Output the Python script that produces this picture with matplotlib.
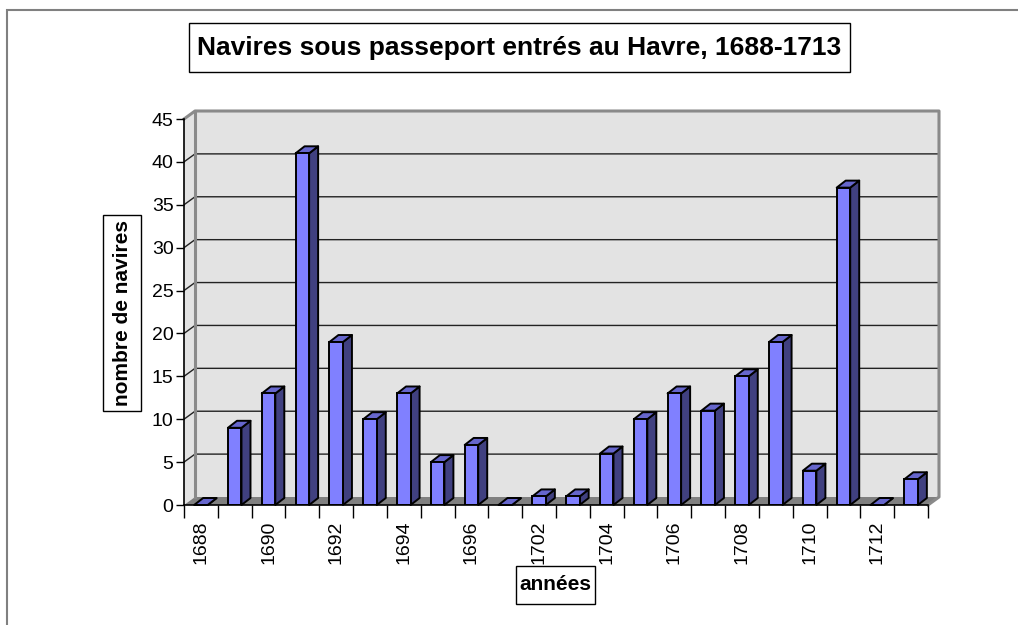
import matplotlib
matplotlib.use('Agg')
import matplotlib.pyplot as plt
from matplotlib.patches import Polygon, Rectangle

# ---------------- data ----------------
years = ['1688', '1689', '1690', '1691', '1692', '1693', '1694', '1695', '1696', '1697',
         '1702', '1703', '1704', '1705', '1706', '1707', '1708', '1709', '1710', '1711',
         '1712', '1713']
ships = [0, 9, 13, 41, 19, 10, 13, 5, 7, 0, 1, 1, 6, 10, 13, 11, 15, 19, 4, 37, 0, 3]
y_ticks = [0, 5, 10, 15, 20, 25, 30, 35, 40, 45]
title = 'Navires sous passeport entrés au Havre, 1688-1713'
ylabel = 'nombre de navires'
xlabel = 'années'

plt.rcParams['font.family'] = ['Liberation Sans', 'DejaVu Sans']

W, H = 1018, 625
fig = plt.figure(figsize=(W / 100, H / 100), dpi=100)
fig.patch.set_facecolor('white')


def fx(px):
    return px / W


def fy(py):
    return 1 - py / H


AX_L, AX_R, AX_B, AX_T = 184, 928, 505, 119
ax = fig.add_axes([fx(AX_L), fy(AX_B), fx(AX_R) - fx(AX_L), fy(AX_T) - fy(AX_B)])
n = len(years)
ymax = y_ticks[-1]
ax.set_xlim(-0.5, n - 0.5)
ax.set_ylim(0, ymax)
ax.patch.set_visible(False)
for s in ['top', 'right']:
    ax.spines[s].set_visible(False)
for s in ['left', 'bottom']:
    ax.spines[s].set_color('black')
    ax.spines[s].set_linewidth(1.2)
    ax.spines[s].set_zorder(5)

xpx = (AX_R - AX_L) / n
ypx = (AX_B - AX_T) / ymax


def dxd(px):
    return px / xpx


def dyd(px):
    return px / ypx


WX, WY = dxd(11), dyd(8)   # wall depth
BX, BY = dxd(9), dyd(7)    # bar depth
x0, x1 = -0.5, n - 0.5

# back wall & left wall
ax.add_patch(Rectangle((x0 + WX, WY), x1 - x0, ymax, fc='#e3e3e3', ec='none', zorder=0, clip_on=False))
ax.add_patch(Polygon([(x0, 0), (x0 + WX, WY), (x0 + WX, ymax + WY), (x0, ymax)],
                     closed=True, fc='#e3e3e3', ec='none', zorder=0, clip_on=False))
# floor
ax.add_patch(Polygon([(x0, 0), (x1, 0), (x1 + WX, WY), (x0 + WX, WY)],
                     closed=True, fc='#808080', ec='none', zorder=0.5, clip_on=False))
# gridlines
for v in y_ticks[1:-1]:
    ax.plot([x0, x0 + WX, x1 + WX], [v, v + WY, v + WY], color='#222222', lw=1.0,
            zorder=0.6, clip_on=False, solid_capstyle='butt')
# wall borders
ax.plot([x0, x0 + WX, x1 + WX, x1 + WX, x1], [ymax, ymax + WY, ymax + WY, WY, 0],
        color='#8a8a8a', lw=2.2, zorder=0.7, clip_on=False)
ax.plot([x0 + WX, x0 + WX], [WY, ymax + WY], color='#8a8a8a', lw=2.2, zorder=0.7, clip_on=False)

# bars
xs = list(range(n))
bw = 0.4
ax.bar(xs, ships, width=bw, color='#8080ff', edgecolor='black', linewidth=1.4, zorder=3)
for x, v in zip(xs, ships):
    r = x + bw / 2
    l = x - bw / 2
    side = [(r, 0), (r + BX, BY), (r + BX, v + BY), (r, v)]
    top = [(l, v), (r, v), (r + BX, v + BY), (l + BX, v + BY)]
    ax.add_patch(Polygon(side, closed=True, fc='#404080', ec='black', lw=1.4, zorder=2.9,
                         joinstyle='round', clip_on=False))
    ax.add_patch(Polygon(top, closed=True, fc='#6666cc', ec='black', lw=1.4, zorder=2.9,
                         joinstyle='round', clip_on=False))

# axes ticks
ax.set_yticks(y_ticks)
ax.set_yticklabels([str(t) for t in y_ticks])
ax.tick_params(axis='y', length=6, width=1, pad=1.5, labelsize=14, color='black')
ax.set_xticks(xs[::2])
ax.set_xticklabels(years[::2], rotation=90, va='top', ha='center')
ax.set_xticks([i - 0.5 for i in range(n + 1)], minor=True)
ax.tick_params(axis='x', which='major', length=0, pad=11, labelsize=14)
ax.tick_params(axis='x', which='minor', length=9, width=1, color='black')


def boxed_text(x_a, y_a, x_b, y_b, txt, size, rot=0):
    fig.patches.append(Rectangle((fx(x_a), fy(y_b)), fx(x_b) - fx(x_a), fy(y_a) - fy(y_b),
                                 transform=fig.transFigure, fc='white', ec='black', lw=1,
                                 zorder=2))
    fig.text(fx((x_a + x_b) / 2), fy((y_a + y_b) / 2), txt, ha='center', va='center',
             rotation=rot, rotation_mode='anchor' if rot == 0 else 'default',
             fontsize=size, fontweight='bold', zorder=3)


boxed_text(189, 23, 850, 72, title, 19)
boxed_text(103, 215, 141, 411, ylabel, 15, rot=90)
boxed_text(516, 566, 595, 604, xlabel, 15)

# outer chart frame
fig.patches.append(Rectangle((fx(7), fy(H + 20)), fx(W + 20) - fx(7), fy(10) - fy(H + 20),
                             transform=fig.transFigure, fc='none', ec='#808080', lw=1.5,
                             zorder=1))

fig.savefig('out.png', dpi=100)
